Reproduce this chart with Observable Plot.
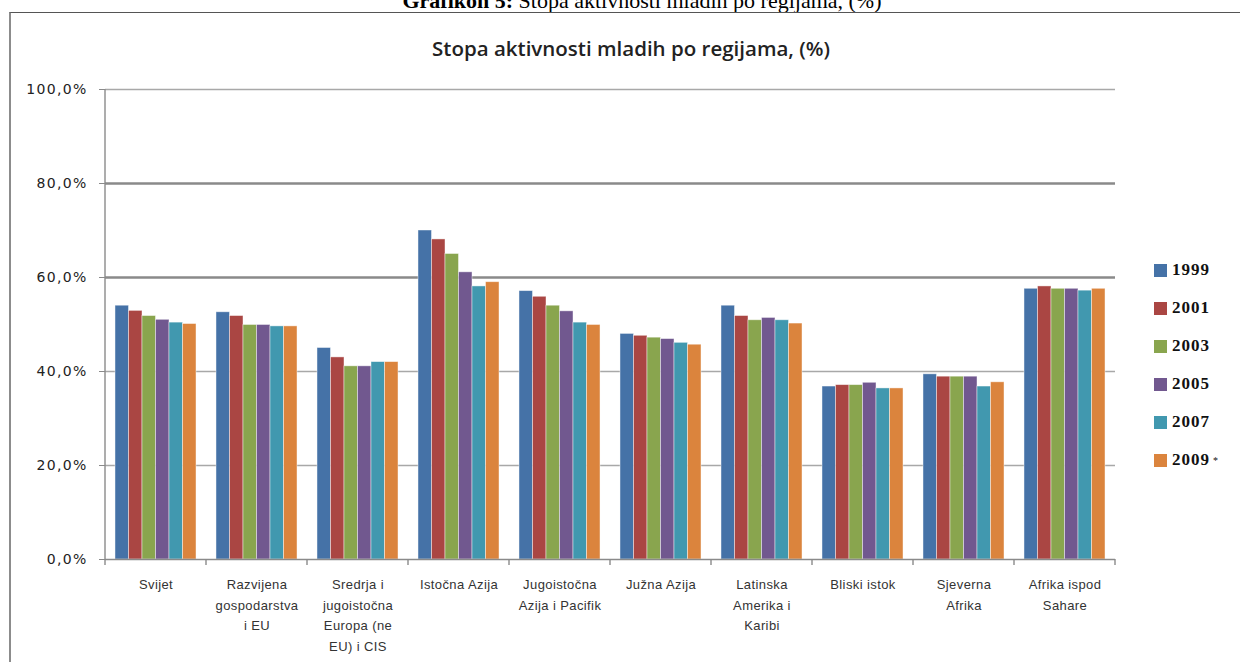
<!DOCTYPE html>
<html>
<head>
<meta charset="utf-8">
<script src="https://cdn.jsdelivr.net/npm/d3@7"></script>
<script src="https://cdn.jsdelivr.net/npm/@observablehq/plot@0.6"></script>
<style>
  html, body { margin: 0; padding: 0; background: #fff; }
  #page { position: relative; width: 1240px; height: 662px; overflow: hidden; background: #fff; }
  #doctitle { position: absolute; left: 22px; width: 1240px; top: -10px; text-align: center;
    font-family: "Liberation Serif", "Times New Roman", serif; font-size: 22px; line-height: 22px; color: #000; }
  #box { position: absolute; left: 9px; top: 12px; width: 1240px; height: 660px;
    border-left: 2px solid #8c8c8c; border-top: 1px solid #555; }
  #title { position: absolute; left: 381px; width: 500px; top: 34px; text-align: center;
    font-family: "Open Sans", sans-serif; font-weight: 600; font-size: 20.5px; color: #222; white-space: nowrap; }
  #chart { position: absolute; left: 0; top: 70px; }
  #chart svg g[aria-label="y-axis tick label"] text { letter-spacing: 1.3px; }
  #chart svg g[aria-label="fx-axis tick label"] text { letter-spacing: 0.4px; }
  #legend { position: absolute; left: 1154px; top: 258px; font-family: "Liberation Serif", serif; font-weight: bold;
    font-size: 17px; color: #111; letter-spacing: 1px; }
  #legend .item { position: absolute; left: 0; height: 24px; white-space: nowrap; display: flex; align-items: center; }
  #legend .sw { width: 13px; height: 13px; margin-right: 5px; }
  #legend sup { font-size: 10px; font-weight: normal; vertical-align: 6px; margin-left: 3px; }
</style>
</head>
<body>
<div id="page">
  <div id="doctitle"><b>Grafikon 5:</b> Stopa aktivnosti mladih po regijama, (%)</div>
  <div id="box"></div>
  <div id="title">Stopa aktivnosti mladih po regijama, (%)</div>
  <div id="chart"></div>
  <div id="legend"></div>
</div>
<script>
// ---- data ----
const regions = [
  "Svijet",
  "Razvijena\ngospodarstva\ni EU",
  "Sredrja i\njugoistočna\nEuropa (ne\nEU) i CIS",
  "Istočna Azija",
  "Jugoistočna\nAzija i Pacifik",
  "Južna Azija",
  "Latinska\nAmerika i\nKaribi",
  "Bliski istok",
  "Sjeverna\nAfrika",
  "Afrika ispod\nSahare"
];
const years = ["1999", "2001", "2003", "2005", "2007", "2009"];
const yearNotes = ["", "", "", "", "", "*"];
const colors = ["#4572A7", "#AA4643", "#89A54E", "#71588F", "#4198AF", "#DB843D"];

const v1999 = [54.0, 52.6, 45.0, 70.0, 57.1, 48.0, 54.0, 36.8, 39.4, 57.6];
const v2001 = [52.9, 51.8, 43.0, 68.1, 55.9, 47.6, 51.8, 37.1, 38.9, 58.1];
const v2003 = [51.8, 49.9, 41.1, 65.0, 54.0, 47.2, 50.9, 37.1, 38.9, 57.6];
const v2005 = [51.0, 49.9, 41.1, 61.1, 52.8, 46.9, 51.4, 37.6, 38.9, 57.6];
const v2007 = [50.4, 49.6, 42.0, 58.1, 50.4, 46.1, 50.9, 36.4, 36.8, 57.2];
const v2009 = [50.1, 49.6, 42.0, 59.0, 49.9, 45.7, 50.2, 36.4, 37.7, 57.6];
const series = [v1999, v2001, v2003, v2005, v2007, v2009];

const yTicks = [0, 20, 40, 60, 80, 100];
const lightGrid = [20, 40, 100];
const darkGrid = [60, 80];

// ---- table ----
const data = [];
regions.forEach((r, i) => years.forEach((y, j) => data.push({region: r, year: y, value: series[j][i]})));

const fmt = d => d.toFixed(1).replace(".", ",") + "%";

const W = 1240, H = 592, mL = 105, mR = 125, mT = 19, mB = 103;

const chart = Plot.plot({
  width: W, height: H,
  marginLeft: mL, marginRight: mR, marginTop: mT, marginBottom: mB,
  style: {fontFamily: "'Liberation Sans', sans-serif", fontSize: "13px", color: "#333", background: "transparent"},
  fx: {domain: regions, padding: 0, label: null},
  x: {domain: years, paddingInner: 0, paddingOuter: 0.74, axis: null, round: false},
  y: {domain: [0, 100], label: null},
  color: {domain: years, range: colors},
  marks: [
    Plot.gridY(lightGrid, {stroke: "#a8a8a8", strokeOpacity: 1, strokeWidth: 1.6}),
    Plot.gridY(darkGrid, {stroke: "#8a8a8a", strokeOpacity: 1, strokeWidth: 2.4}),
    Plot.barY(data, {fx: "region", x: "year", y: "value", fill: "year", stroke: "#ffffff", strokeOpacity: 0.55, strokeWidth: 0.8}),
    Plot.gridY([0], {stroke: "#8a8a8a", strokeOpacity: 1, strokeWidth: 1.4}),
    Plot.axisY({ticks: yTicks, tickFormat: fmt, tickSize: 6, tickPadding: 12, stroke: "#8a8a8a",
      fontFamily: "'DejaVu Sans', sans-serif", fontSize: 14, fill: "#222", label: null}),
    Plot.axisFx({anchor: "bottom", tickSize: 0, tickPadding: 15, lineHeight: 1.58, label: null,
      fontSize: 13, fill: "#333"})
  ]
});
document.getElementById("chart").appendChild(chart);

// axis line + category boundary ticks from Plot's own scales
const fx = chart.scale("fx"), ys = chart.scale("y");
const svg = d3.select(chart);
const y0 = ys.apply(0), y100 = ys.apply(100);
const x0 = fx.apply(regions[0]);
const bounds = regions.map(r => fx.apply(r)).concat([fx.apply(regions[regions.length - 1]) + fx.bandwidth]);
const g = svg.append("g").attr("stroke", "#8a8a8a").attr("stroke-width", 1.4);
g.append("line").attr("x1", x0).attr("x2", x0).attr("y1", y100).attr("y2", y0);
bounds.forEach(b => g.append("line").attr("x1", b).attr("x2", b).attr("y1", y0).attr("y2", y0 + 6));

// legend
const leg = document.getElementById("legend");
years.forEach((y, i) => {
  const it = document.createElement("div");
  it.className = "item";
  it.style.top = (i * 38) + "px";
  it.innerHTML = `<span class="sw" style="background:${colors[i]}"></span><span>${y}</span>` +
    (yearNotes[i] ? `<sup>${yearNotes[i]}</sup>` : "");
  leg.appendChild(it);
});
</script>
</body>
</html>
